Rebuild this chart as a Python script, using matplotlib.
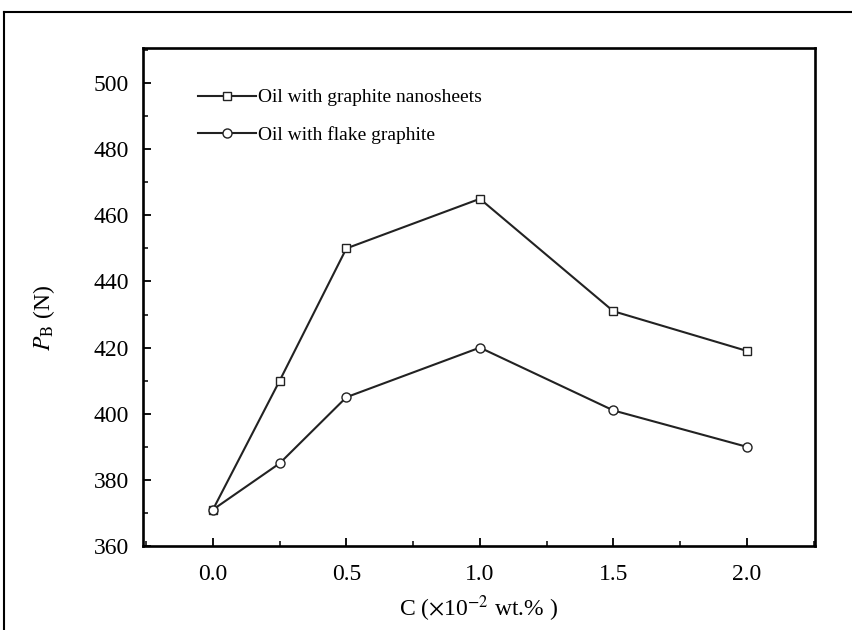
import matplotlib.pyplot as plt
from matplotlib.lines import Line2D
from matplotlib.ticker import MultipleLocator

plt.rcParams['font.family'] = ['Liberation Serif', 'DejaVu Serif']
plt.rcParams['mathtext.fontset'] = 'stix'

conc = [0.0, 0.25, 0.5, 1.0, 1.5, 2.0]
nanosheets = [371, 410, 450, 465, 431, 419]
flake = [371, 385, 405, 420, 401, 390]

fig = plt.figure(figsize=(8.53, 6.3), dpi=100)
ax = fig.add_axes([0.1676, 0.1333, 0.7878, 0.7905])

ax.plot(conc, nanosheets, color='#222222', lw=1.5, marker='s', ms=6,
        mfc='white', mec='#222222', mew=1.0, label='Oil with graphite nanosheets')
ax.plot(conc, flake, color='#222222', lw=1.5, marker='o', ms=6.5,
        mfc='white', mec='#222222', mew=1.0, label='Oil with flake graphite')

ax.set_xlim(-0.262, 2.255)
ax.set_ylim(360, 510.6)
ax.xaxis.set_major_locator(MultipleLocator(0.5))
ax.xaxis.set_minor_locator(MultipleLocator(0.25))
ax.yaxis.set_major_locator(MultipleLocator(20))
ax.yaxis.set_minor_locator(MultipleLocator(10))
ax.xaxis.set_major_formatter(plt.FormatStrFormatter('%.1f'))
ax.tick_params(which='both', direction='in', top=False, right=False, labelsize=17)
ax.tick_params(axis='x', pad=13)
ax.tick_params(axis='y', pad=10)
ax.tick_params(which='major', length=6, width=1.3)
ax.tick_params(which='minor', length=3.5, width=1.1)
for s in ax.spines.values():
    s.set_linewidth(1.9)

ax.set_xlabel(r'C ($\times$10$^{-2}$ wt.% )', fontsize=17, labelpad=6)
ax.set_ylabel(r'$P_{\rm B}$ (N)', fontsize=17)
ax.yaxis.set_label_coords(-0.128, 0.458)

ax.legend(loc='upper left', bbox_to_anchor=(0.082, 0.918), frameon=False, fontsize=14,
          borderpad=0, borderaxespad=0,
          handlelength=3.0, handletextpad=0.1, labelspacing=1.0)

fig.add_artist(Line2D([0.005, 0.005], [0, 0.981], color='black', lw=1.5))
fig.add_artist(Line2D([0.005, 1.0], [0.981, 0.981], color='black', lw=1.5))

fig.savefig('out.png', dpi=100)
